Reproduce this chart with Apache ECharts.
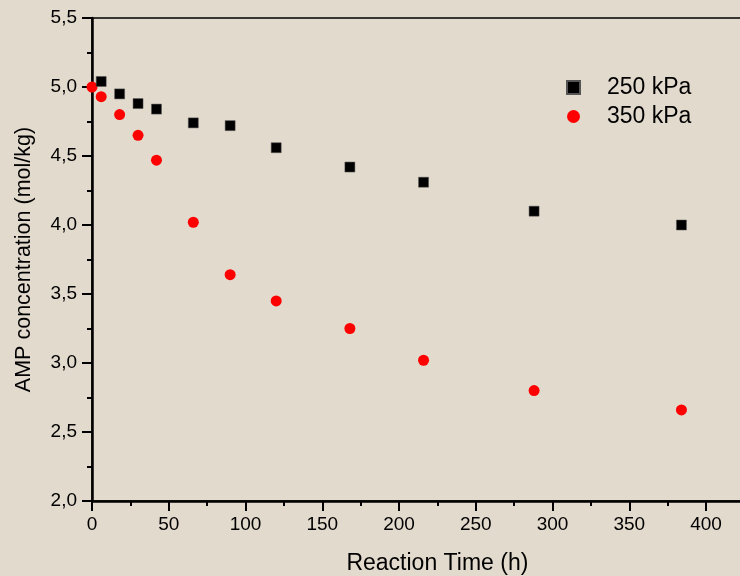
<!DOCTYPE html>
<html>
<head>
<meta charset="utf-8">
<script src="https://cdn.jsdelivr.net/npm/echarts@6/dist/echarts.min.js"></script>
<style>
html,body{margin:0;padding:0;background:#e3dace;}
#chart{width:740px;height:576px;}
</style>
</head>
<body>
<div id="chart"></div>
<script>
var seriesNames = ['250 kPa', '350 kPa'];
var time250 = [6, 18, 30, 42, 66, 90, 120, 168, 216, 288, 384];
var conc250 = [5.04, 4.95, 4.88, 4.84, 4.74, 4.72, 4.56, 4.42, 4.31, 4.10, 4.00];
var time350 = [0, 6, 18, 30, 42, 66, 90, 120, 168, 216, 288, 384];
var conc350 = [5.00, 4.93, 4.80, 4.65, 4.47, 4.02, 3.64, 3.45, 3.25, 3.02, 2.80, 2.66];
var xTitle = 'Reaction Time (h)';
var yTitle = 'AMP concentration (mol/kg)';

function pairs(xs, ys) { return xs.map(function (x, i) { return [x, ys[i]]; }); }

var chart = echarts.init(document.getElementById('chart'), null, {renderer: 'canvas'});
var font = '"Liberation Sans", Arial, sans-serif';
chart.setOption({
  backgroundColor: '#e3dace',
  textStyle: {fontFamily: font, color: '#000'},
  animation: false,
  grid: {left: 92, top: 18, bottom: 75, width: 690.75, containLabel: false, outerBoundsMode: 'none',
         show: true, borderColor: '#000', borderWidth: 1.5, backgroundColor: 'transparent'},
  legend: {
    orient: 'vertical', left: 561, top: 71, itemWidth: 13, itemHeight: 13, itemGap: 6,
    data: seriesNames,
    formatter: function (n) { return '{p|' + n + '}'; },
    textStyle: {fontFamily: font, fontSize: 23, color: '#000', rich: {p: {fontFamily: font, fontSize: 23, color: '#000', padding: [0, 0, 0, 22]}}}
  },
  xAxis: {
    type: 'value', min: 0, max: 450, interval: 50,
    name: xTitle, nameLocation: 'middle', nameGap: 51,
    nameTextStyle: {fontFamily: font, fontSize: 23, color: '#000'},
    axisLine: {lineStyle: {color: '#000', width: 2.5}},
    axisTick: {show: true, inside: false, length: 10, lineStyle: {color: '#000', width: 2}},
    minorTick: {show: true, splitNumber: 2, length: 5, lineStyle: {color: '#000', width: 2}},
    splitLine: {show: false},
    axisLabel: {fontFamily: font, fontSize: 19, color: '#000', margin: 14}
  },
  yAxis: {
    type: 'value', min: 2, max: 5.5, interval: 0.5,
    name: yTitle, nameLocation: 'middle', nameGap: 57, nameRotate: 90,
    nameTextStyle: {fontFamily: font, fontSize: 21.5, color: '#000'},
    axisLine: {lineStyle: {color: '#000', width: 2.5}},
    axisTick: {show: true, inside: false, length: 10, lineStyle: {color: '#000', width: 2}},
    minorTick: {show: true, splitNumber: 2, length: 5, lineStyle: {color: '#000', width: 2}},
    splitLine: {show: false},
    axisLabel: {fontFamily: font, fontSize: 19, color: '#000', margin: 15,
      formatter: function (v) { return v.toFixed(1).replace('.', ','); }}
  },
  series: [
    {name: seriesNames[1], type: 'scatter', symbol: 'circle', symbolSize: 11, z: 2,
     itemStyle: {color: '#ff0000', opacity: 1}, data: pairs(time350, conc350)},
    {name: seriesNames[0], type: 'scatter', symbol: 'rect', symbolSize: 10, z: 3,
     itemStyle: {color: '#000', borderColor: '#555', borderWidth: 0.5, opacity: 1}, data: pairs(time250, conc250)}
  ]
});
</script>
</body>
</html>
